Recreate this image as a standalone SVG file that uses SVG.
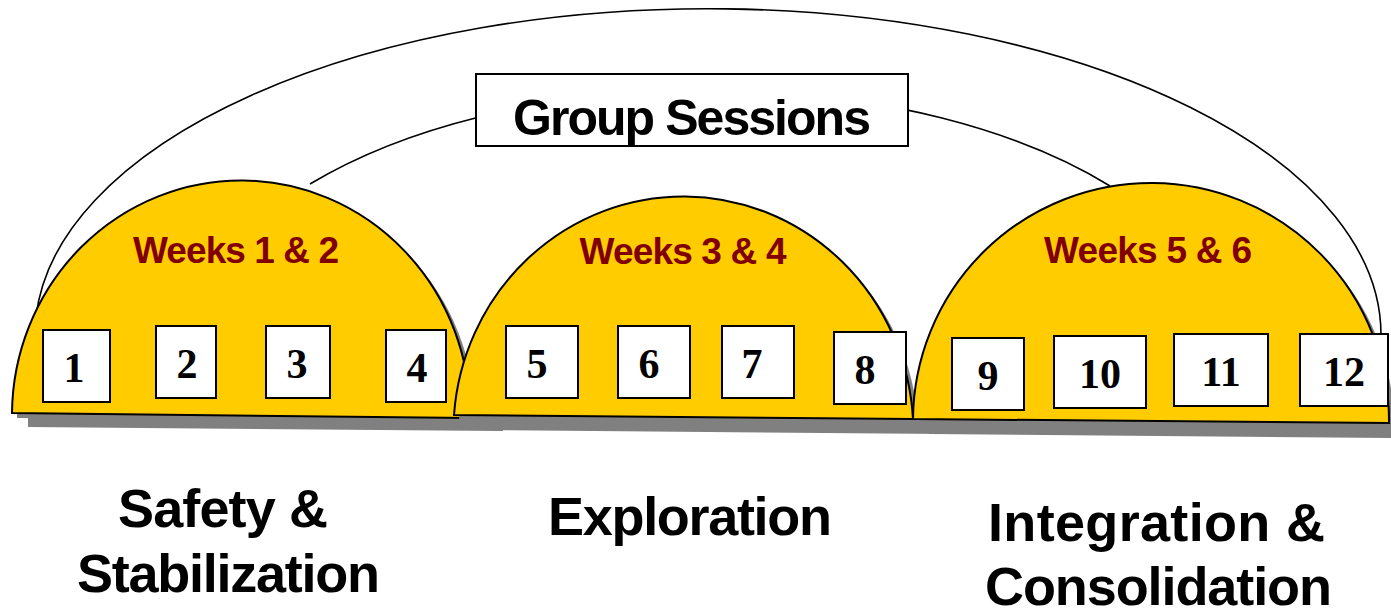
<svg xmlns="http://www.w3.org/2000/svg" width="1391" height="614" viewBox="0 0 1391 614">
<style>
.arc{fill:none;stroke:#000;stroke-width:1.6}
.dome{fill:#FFCC00;stroke:#000;stroke-width:2}
.shadow{fill:#808080}
.box{fill:#fff;stroke:#000;stroke-width:2}
.num{font-family:"Liberation Serif","Times New Roman",serif;font-weight:bold;font-size:42px;fill:#000;text-anchor:middle}
.weeks{font-family:"Liberation Sans",Arial,sans-serif;font-weight:bold;font-size:37px;fill:#800000;text-anchor:middle}
.phase{font-family:"Liberation Sans",Arial,sans-serif;font-weight:bold;font-size:54px;fill:#000}
.title{font-family:"Liberation Sans",Arial,sans-serif;font-weight:bold;font-size:50px;fill:#000}
</style>
<rect width="1391" height="614" fill="#fff"/>
<g id="connectors">
<path class="arc" d="M36,317 A673,326 0 0 1 1381,335"/>
<path class="arc" d="M310,184 A520,263 0 0 1 1110,186"/>
</g>
<g id="group-sessions">
<rect class="box" x="476" y="74" width="432" height="72"/>
<text class="title" x="513" y="135" textLength="358">Group Sessions</text>
</g>
<g id="dome-weeks-1-2">
<path class="shadow" d="M17,418 A229,235 0 0 1 475,423 Z"/>
<polygon class="shadow" points="28,414 503,419 503,431 28,427"/>
<path class="dome" d="M12,413 A229,235 0 0 1 470,418 Z"/>
<text class="weeks" x="236" y="263" textLength="206">Weeks 1 &amp; 2</text>
<rect class="box" x="43" y="330" width="67" height="72"/><text class="num" x="74" y="382">1</text>
<rect class="box" x="156" y="326" width="60" height="72"/><text class="num" x="187" y="378">2</text>
<rect class="box" x="266" y="326" width="64" height="72"/><text class="num" x="297" y="378">3</text>
<rect class="box" x="386" y="330" width="60" height="72"/><text class="num" x="417" y="382">4</text>
</g>
<g id="dome-weeks-3-4">
<path class="shadow" d="M459,420 A230,236 0 0 1 918,424 Z"/>
<polygon class="shadow" points="470,416 945,421 945,434 470,430"/>
<path class="dome" d="M454,415 A230,236 0 0 1 913,419 Z"/>
<text class="weeks" x="683" y="264" textLength="207">Weeks 3 &amp; 4</text>
<rect class="box" x="506" y="326" width="72" height="72"/><text class="num" x="537" y="378">5</text>
<rect class="box" x="618" y="326" width="72" height="72"/><text class="num" x="649" y="378">6</text>
<rect class="box" x="722" y="326" width="72" height="72"/><text class="num" x="752" y="378">7</text>
<rect class="box" x="834" y="332" width="72" height="72"/><text class="num" x="865" y="384">8</text>
</g>
<g id="dome-weeks-5-6">
<path class="shadow" d="M918,424 A238,238 0 0 1 1394,428 Z"/>
<polygon class="shadow" points="929,420 1391,425 1391,438 929,434"/>
<path class="dome" d="M913,419 A238,238 0 0 1 1389,423 Z"/>
<text class="weeks" x="1148" y="263" textLength="208">Weeks 5 &amp; 6</text>
<rect class="box" x="952" y="338" width="72" height="72"/><text class="num" x="988" y="390">9</text>
<rect class="box" x="1054" y="336" width="92" height="72"/><text class="num" x="1100" y="388">10</text>
<rect class="box" x="1174" y="334" width="94" height="72"/><text class="num" x="1221" y="386">11</text>
<rect class="box" x="1300" y="334" width="88" height="72"/><text class="num" x="1344" y="386">12</text>
</g>
<g id="phase-safety">
<text class="phase" x="118" y="527" textLength="210">Safety &amp;</text>
<text class="phase" x="77" y="592" textLength="303">Stabilization</text>
</g>
<g id="phase-exploration">
<text class="phase" x="548" y="535" textLength="284">Exploration</text>
</g>
<g id="phase-integration">
<text class="phase" x="988" y="541" textLength="337">Integration &amp;</text>
<text class="phase" x="985" y="605" textLength="347">Consolidation</text>
</g>
</svg>
